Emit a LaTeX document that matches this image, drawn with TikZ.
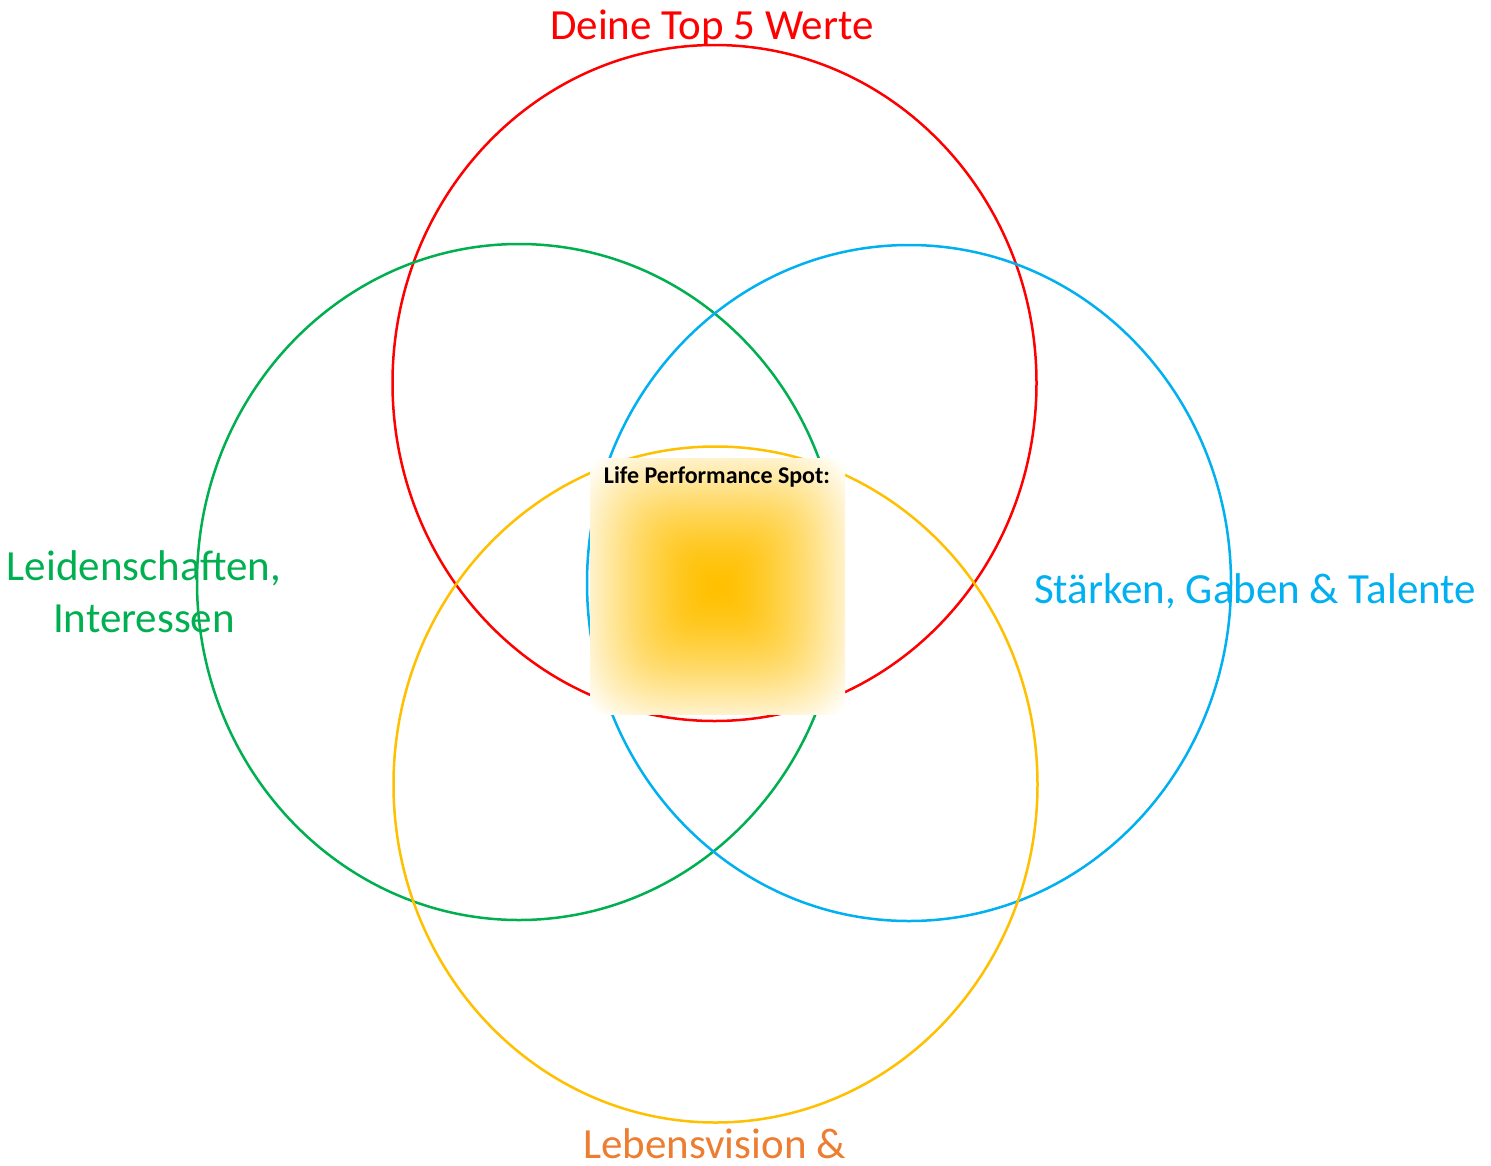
\documentclass[tikz,border=0pt]{standalone}
\usepackage{fontspec}
\setmainfont{Carlito}
\usetikzlibrary{shapes.geometric}
\definecolor{cred}{HTML}{FF0000}
\definecolor{cgreen}{HTML}{00B050}
\definecolor{cblue}{HTML}{00B0F0}
\definecolor{cyellow}{HTML}{FFC000}
\definecolor{corange}{HTML}{ED7D31}
\pgfdeclarefunctionalshading{spotshade}{\pgfpoint{-50bp}{-50bp}}{\pgfpoint{50bp}{50bp}}{}{
 dup mul dup mul exch dup mul dup mul add sqrt sqrt 29 div dup 1 gt {pop 1} if
 dup sqrt mul
 1 exch dup 0.247 mul 0.753 add exch
}
\tikzset{
  ring/.style={ellipse, draw=#1, line width=2.5pt, minimum width=644pt, minimum height=676pt, inner sep=0pt},
  lbl/.style={font=\fontsize{43}{52}\selectfont, text=#1, anchor=base, inner sep=0pt},
  spotbox/.style={rectangle, minimum width=255pt, minimum height=256pt, inner sep=0pt, shading=spotshade},
  spottitle/.style={font=\bfseries\fontsize{24}{28}\selectfont, anchor=base, inner sep=0pt}
}
\begin{document}
\begin{tikzpicture}[x=1pt,y=-1pt]
\useasboundingbox[fill=white] (0,0) rectangle (1491,1165);
% labels
\node[lbl=cred] (ltop) at (712,39) {Deine Top 5 Werte};
\node[lbl=cgreen] (lleft1) at (144,580) {Leidenschaften,};
\node[lbl=cgreen] (lleft2) at (144,632) {Interessen};
\node[lbl=cblue] (lright) at (1255,603) {Stärken, Gaben \& Talente};
\node[lbl=corange] (lbottom) at (714.5,1158) {Lebensvision \&};
% rings
\node[ring=cred] (red) at (714.5,383) {};
\node[ring=cgreen] (green) at (519,582) {};
\node[ring=cblue] (blue) at (909,583) {};
\node[ring=cyellow] (yellow) at (715.5,784.5) {};
% centre spot
\node[spotbox] (spot) at (717.5,586) {};
\node[spottitle] (spottxt) at (717,483) {Life Performance Spot:};
\end{tikzpicture}
\end{document}
